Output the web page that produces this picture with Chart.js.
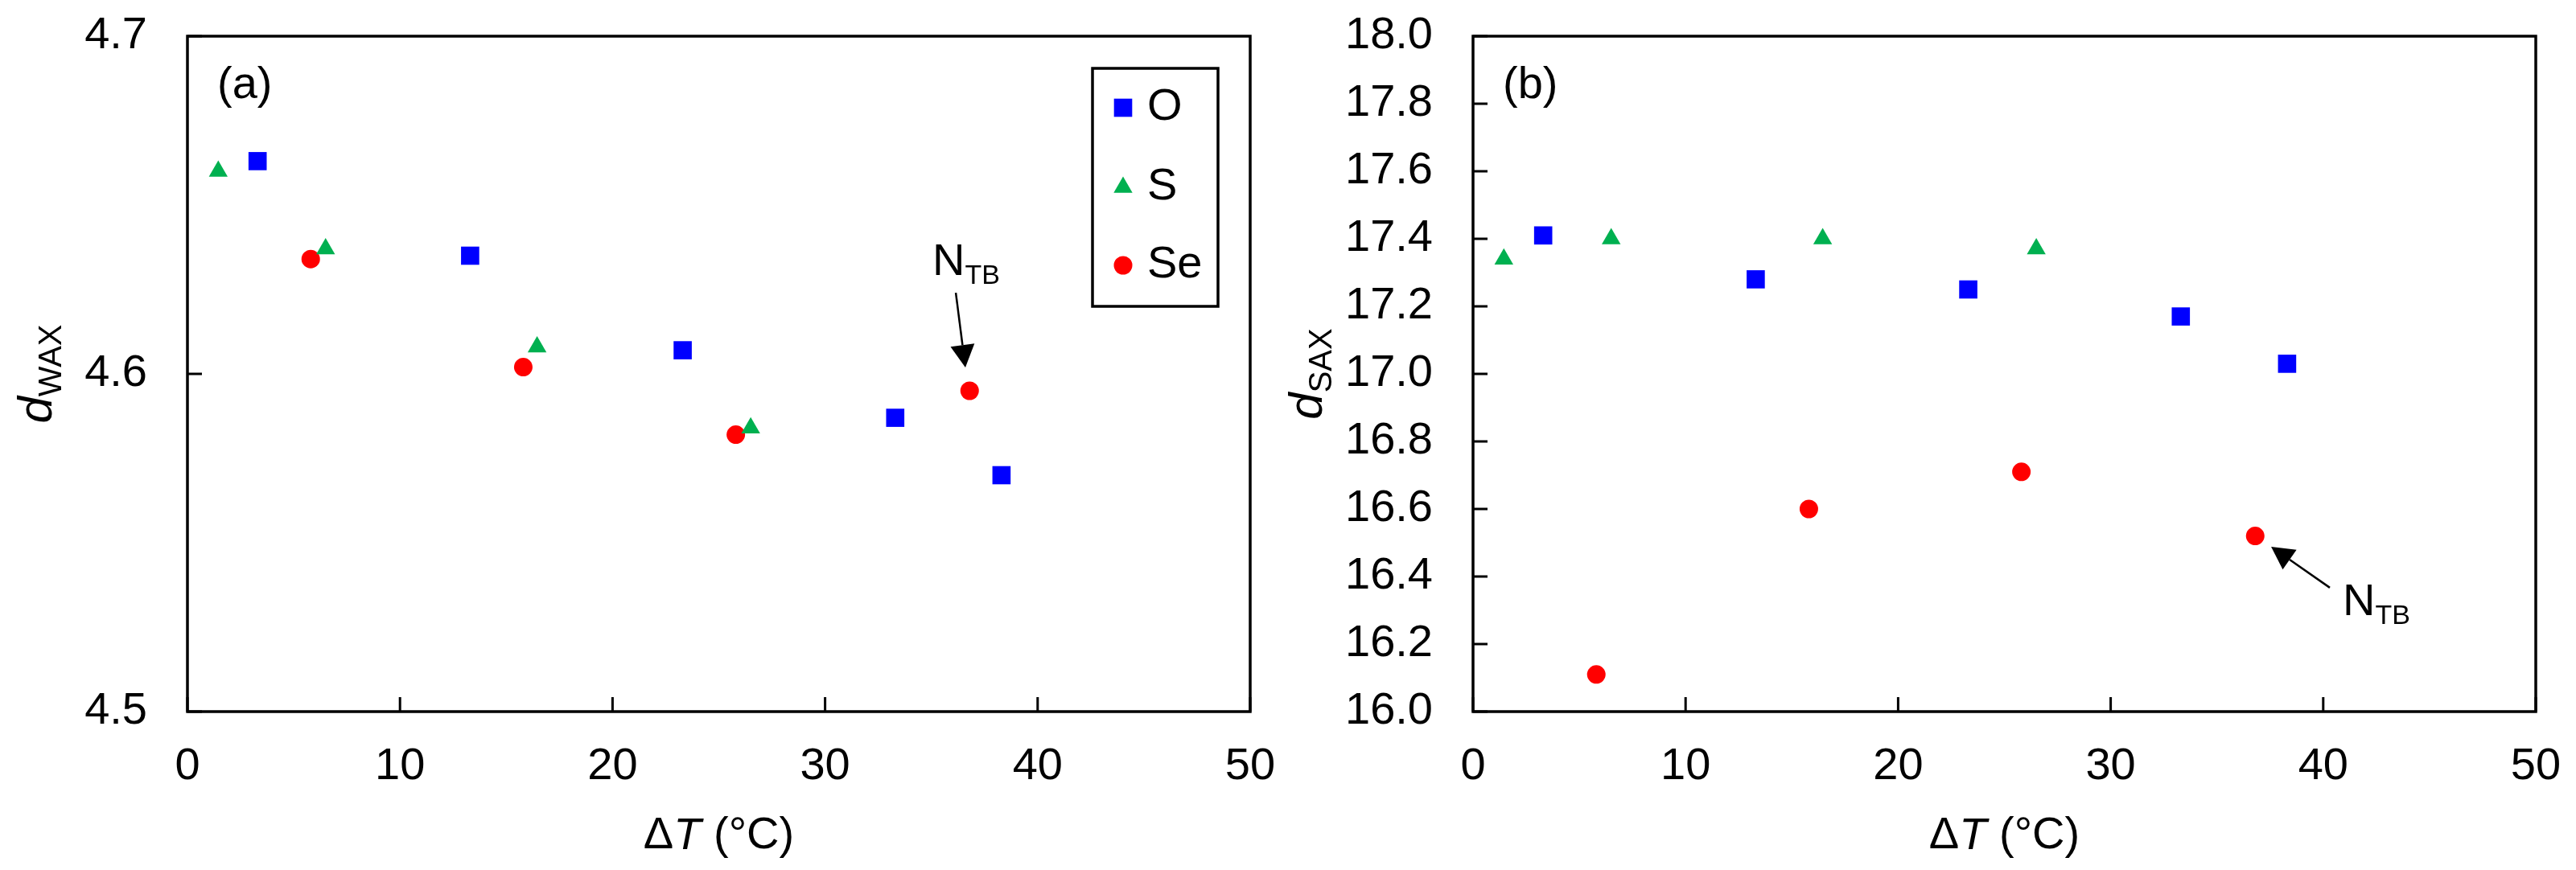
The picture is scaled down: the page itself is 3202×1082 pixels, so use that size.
<!DOCTYPE html>
<html><head><meta charset="utf-8">
<script src="https://cdn.jsdelivr.net/npm/chart.js@4.4.1/dist/chart.umd.min.js"></script>
<style>
html,body{margin:0;padding:0;background:#fff;overflow:hidden}
#wrap{position:relative;width:3202px;height:1082px;background:#fff}
canvas{position:absolute;top:0}
#c1{left:0}
#c2{left:1601px}
</style></head><body>
<div id="wrap"><canvas id="c1" width="1601" height="1082"></canvas><canvas id="c2" width="1601" height="1082"></canvas></div>
<script>
// ---------- data ----------
const seriesNames = ['O', 'S', 'Se'];
const dT_O  = [3.3, 13.3, 23.3, 33.3, 38.3];
const dT_S  = [1.45, 6.5, 16.45, 26.5];
const dT_Se = [5.8, 15.8, 25.8, 36.8];
const dWAX_O  = [4.663, 4.635, 4.607, 4.587, 4.570];
const dWAX_S  = [4.660, 4.637, 4.608, 4.584];
const dWAX_Se = [4.634, 4.602, 4.582, 4.595];
const dSAX_O  = [17.41, 17.28, 17.25, 17.17, 17.03];
const dSAX_S  = [17.34, 17.40, 17.40, 17.37];
const dSAX_Se = [16.11, 16.60, 16.71, 16.52];
const xTickVals = [0, 10, 20, 30, 40, 50];
const yTickValsA = [4.5, 4.6, 4.7];
const yTickValsB = [16.0, 16.2, 16.4, 16.6, 16.8, 17.0, 17.2, 17.4, 17.6, 17.8, 18.0];

// ---------- styles ----------
const FONT = '"Liberation Sans", Arial, sans-serif';
const styles = [
  {color: '#0000FF', pointStyle: 'rect', radius: 16},
  {color: '#00B050', pointStyle: 'triangle', radius: 13.5},
  {color: '#FF0000', pointStyle: 'circle', radius: 11.5}
];

function pts(xs, ys) { return xs.map((v, i) => ({x: v, y: ys[i]})); }

function makeDatasets(seriesY) {
  const xs = [dT_O, dT_S, dT_Se];
  return seriesNames.map((n, i) => ({
    label: n,
    data: pts(xs[i], seriesY[i]),
    showLine: false,
    pointStyle: styles[i].pointStyle,
    pointRadius: styles[i].radius,
    pointHoverRadius: styles[i].radius,
    backgroundColor: styles[i].color,
    borderColor: styles[i].color,
    borderWidth: 0,
    pointBorderWidth: 0
  }));
}

function drawRich(ctx, parts, cx, y) {
  let total = 0;
  parts.forEach(p => { ctx.font = p.font; p.w = ctx.measureText(p.t).width; total += p.w; });
  let x = cx - total / 2;
  parts.forEach(p => { ctx.font = p.font; ctx.fillText(p.t, x, y + (p.dy || 0)); x += p.w; });
}
function drawRichLeft(ctx, parts, x, y) {
  parts.forEach(p => { ctx.font = p.font; ctx.fillText(p.t, x, y + (p.dy || 0)); x += ctx.measureText(p.t).width; });
}

const decor = {
  id: 'decor',
  beforeDatasetsDraw(chart, args, o) {
    const {ctx, chartArea: a, scales: {x, y}} = chart;
    ctx.save();
    ctx.strokeStyle = '#000';
    ctx.lineWidth = 3.5;
    ctx.strokeRect(a.left, a.top, a.right - a.left, a.bottom - a.top);
    ctx.lineWidth = 3;
    ctx.beginPath();
    x.ticks.forEach(t => { const px = x.getPixelForValue(t.value); ctx.moveTo(px, a.bottom); ctx.lineTo(px, a.bottom - 18); });
    y.ticks.forEach(t => { const py = y.getPixelForValue(t.value); ctx.moveTo(a.left, py); ctx.lineTo(a.left + 18, py); });
    ctx.stroke();
    ctx.restore();
  },
  afterDatasetsDraw(chart, args, o) {
    const {ctx, chartArea: a, scales: {x, y}} = chart;
    ctx.save();
    ctx.fillStyle = '#000';
    ctx.strokeStyle = '#000';
    // panel label
    ctx.font = '56px ' + FONT;
    ctx.textBaseline = 'middle';
    ctx.textAlign = 'left';
    ctx.fillText(o.panel, a.left + 37, a.top + 62);
    // x title
    ctx.textBaseline = 'middle';
    drawRich(ctx, [
      {t: '\u0394', font: '56px ' + FONT},
      {t: 'T', font: 'italic 56px ' + FONT},
      {t: ' (\u00B0C)', font: '56px ' + FONT}
    ], (a.left + a.right) / 2, 1040);
    // y title
    ctx.save();
    ctx.translate(o.yTitleX, (a.top + a.bottom) / 2);
    ctx.rotate(-Math.PI / 2);
    ctx.textBaseline = 'alphabetic';
    drawRich(ctx, [
      {t: 'd', font: 'italic 60px ' + FONT},
      {t: o.ySub, font: '40px ' + FONT, dy: 12}
    ], 0, 0);
    ctx.restore();
    // annotation N_TB
    const n = o.note;
    ctx.textBaseline = 'alphabetic';
    drawRichLeft(ctx, [
      {t: 'N', font: '56px ' + FONT},
      {t: 'TB', font: '34px ' + FONT, dy: 11}
    ], x.getPixelForValue(n.tx), y.getPixelForValue(n.ty));
    const x1 = x.getPixelForValue(n.ax1), y1 = y.getPixelForValue(n.ay1);
    const x2 = x.getPixelForValue(n.ax2), y2 = y.getPixelForValue(n.ay2);
    const ang = Math.atan2(y2 - y1, x2 - x1);
    const hl = 28, hw = 15;
    const bx = x2 - hl * Math.cos(ang), by = y2 - hl * Math.sin(ang);
    ctx.lineWidth = 2.5;
    ctx.beginPath(); ctx.moveTo(x1, y1); ctx.lineTo(bx, by); ctx.stroke();
    ctx.beginPath();
    ctx.moveTo(x2, y2);
    ctx.lineTo(bx + hw * Math.sin(ang), by - hw * Math.cos(ang));
    ctx.lineTo(bx - hw * Math.sin(ang), by + hw * Math.cos(ang));
    ctx.closePath(); ctx.fill();
    // legend
    if (o.legend) {
      const L = a.right - 196, T = a.top + 40, R = a.right - 40, B = a.top + 336;
      ctx.lineWidth = 3.5;
      ctx.strokeRect(L, T, R - L, B - T);
      const offs = [49, 148, 245];
      chart.data.datasets.forEach((ds, i) => {
        const yy = T + offs[i];
        ctx.fillStyle = ds.backgroundColor;
        Chart.helpers.drawPoint(ctx, {pointStyle: ds.pointStyle, radius: ds.pointRadius, rotation: 0, borderWidth: 0}, L + 38, yy);
        ctx.fillStyle = '#000';
        ctx.font = '56px ' + FONT;
        ctx.textBaseline = 'middle';
        ctx.fillText(ds.label, L + 68, yy);
      });
    }
    ctx.restore();
  }
};

function makeChart(id, seriesY, yMin, yMax, yTickVals, target, o) {
  const pad = {top: 0, right: 0, left: 0, bottom: 0};
  const chart = new Chart(document.getElementById(id), {
    type: 'scatter',
    data: {datasets: makeDatasets(seriesY)},
    options: {
      responsive: false,
      devicePixelRatio: 1,
      animation: false,
      events: [],
      layout: {padding: pad},
      scales: {
        x: {
          type: 'linear', min: 0, max: 50,
          afterBuildTicks: s => { s.ticks = xTickVals.map(v => ({value: v})); },
          afterFit: s => { s.height = 1082 - target.bottom; s.paddingLeft = 0; s.paddingRight = 0; },
          grid: {display: false, drawTicks: false},
          border: {display: false},
          ticks: {font: {family: FONT, size: 56}, color: '#000', padding: 35, maxRotation: 0,
                  callback: v => String(v)}
        },
        y: {
          type: 'linear', min: yMin, max: yMax,
          afterBuildTicks: s => { s.ticks = yTickVals.map(v => ({value: v})); },
          afterFit: s => { s.width = target.left; s.paddingTop = 0; s.paddingBottom = 0; },
          grid: {display: false, drawTicks: false},
          border: {display: false},
          ticks: {font: {family: FONT, size: 56}, color: '#000', padding: 50,
                  callback: v => Number(v).toFixed(1)}
        }
      },
      plugins: {
        legend: {display: false},
        tooltip: {enabled: false},
        decor: o
      }
    },
    plugins: [decor]
  });
  for (let k = 0; k < 5; k++) {
    const a = chart.chartArea;
    const dt = target.top - a.top, dr = a.right - target.right;
    const dl = target.left - a.left, db = a.bottom - target.bottom;
    if (Math.abs(dt) < 0.5 && Math.abs(dr) < 0.5 && Math.abs(dl) < 0.5 && Math.abs(db) < 0.5) break;
    pad.top = Math.max(0, pad.top + dt);
    pad.right = Math.max(0, pad.right + dr);
    pad.left = Math.max(0, pad.left + dl);
    pad.bottom = Math.max(0, pad.bottom + db);
    chart.options.layout.padding = pad;
    chart.update();
  }
  return chart;
}

makeChart('c1', [dWAX_O, dWAX_S, dWAX_Se], 4.5, 4.7, yTickValsA,
  {left: 233, top: 45, right: 1554, bottom: 885}, {
  panel: '(a)', ySub: 'WAX', yTitleX: 64, legend: true,
  note: {tx: 35.05, ty: 4.6293, ax1: 36.15, ay1: 4.624, ax2: 36.6, ay2: 4.6019}
});
makeChart('c2', [dSAX_O, dSAX_S, dSAX_Se], 16.0, 18.0, yTickValsB,
  {left: 230, top: 45, right: 1551, bottom: 885}, {
  panel: '(b)', ySub: 'SAX', yTitleX: 42, legend: false,
  note: {tx: 40.92, ty: 16.286, ax1: 40.31, ay1: 16.367, ax2: 37.55, ay2: 16.488}
});
</script>
</body></html>
